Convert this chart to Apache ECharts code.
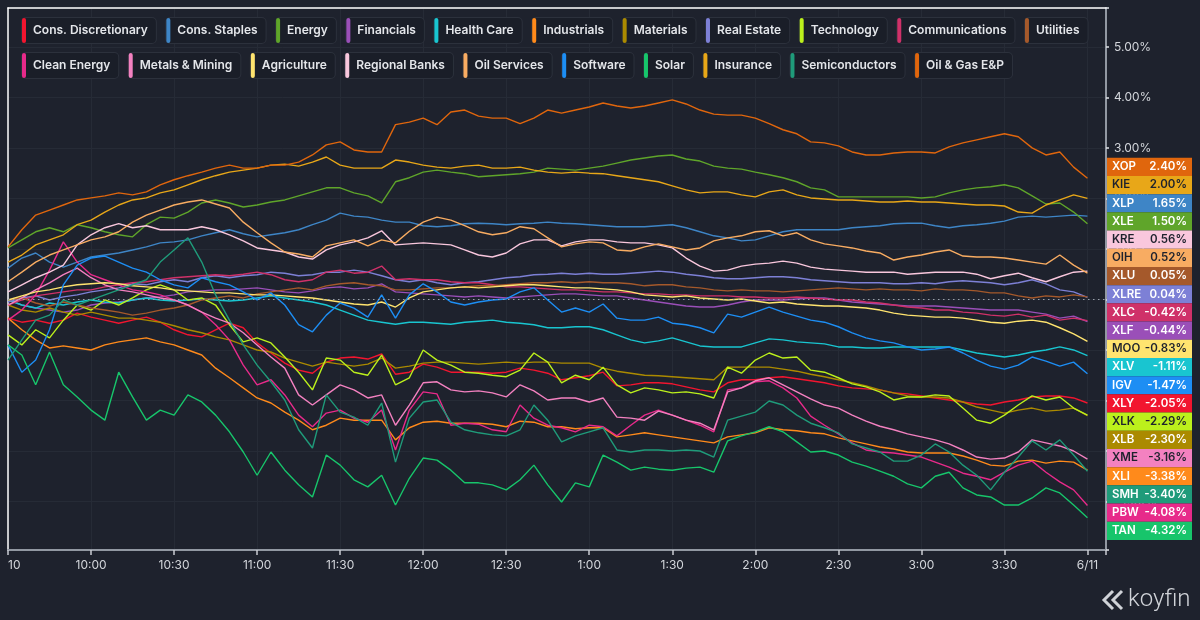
<!DOCTYPE html>
<html><head><meta charset="utf-8">
<script src="https://cdn.jsdelivr.net/npm/echarts@6/dist/echarts.min.js"></script>
<style>html,body{margin:0;padding:0;background:#1e222d;}#c{width:1200px;height:620px;}</style>
</head><body><div id="c"></div>
<script>
// minutes since 9:30 open
const minutes = [0,5,10,15,20,25,30,35,40,45,50,55,60,65,70,75,80,85,90,95,100,105,110,115,120,125,130,135,140,145,150,155,160,165,170,175,180,185,190,195,200,205,210,215,220,225,230,235,240,245,250,255,260,265,270,275,280,285,290,295,300,305,310,315,320,325,330,335,340,345,350,355,360,365,370,375,380,385,390];
const xTickMinutes = [0,30,60,90,120,150,180,210,240,270,300,330,360,390];
const xTickText = ['10','10:00','10:30','11:00','11:30','12:00','12:30','1:00','1:30','2:00','2:30','3:00','3:30','6/11'];

const names   = ['Cons. Discretionary','Cons. Staples','Energy','Financials','Health Care','Industrials','Materials','Real Estate','Technology','Communications','Utilities','Clean Energy','Metals & Mining','Agriculture','Regional Banks','Oil Services','Software','Solar','Insurance','Semiconductors','Oil & Gas E&P'];
const tickers = ['XLY','XLP','XLE','XLF','XLV','XLI','XLB','XLRE','XLK','XLC','XLU','PBW','XME','MOO','KRE','OIH','IGV','TAN','KIE','SMH','XOP'];
const colors  = ['#f2152f','#3e85c6','#5fa52a','#9a4fb8','#19c5d0','#ff8a1b','#ab8a00','#7d80d6','#bcf01c','#cf3169','#a5592b','#e72a8a','#f381c0','#ffe46f','#f9c7dd','#f8ac62','#1d8ef4','#17c56b','#e8a718','#1f9b7a','#e0660d'];
const darkText = ['KIE','KRE','OIH','MOO','XLK','XME'];
const legendRow1 = names.slice(0, 11);
const legendRow2 = names.slice(11);

const XLY = [-0.37,-0.45,-0.41,-0.47,-0.41,-0.27,-0.35,-0.41,-0.47,-0.41,
 -0.35,-0.45,-0.60,-0.70,-0.74,-0.60,-0.47,-0.56,-0.86,-1.06,
 -1.26,-1.40,-1.46,-1.24,-1.16,-1.14,-1.18,-1.08,-1.48,-1.44,
 -1.28,-1.34,-1.44,-1.44,-1.44,-1.46,-1.44,-1.36,-1.40,-1.46,
 -1.59,-1.55,-1.51,-1.44,-1.71,-1.69,-1.65,-1.65,-1.67,-1.73,
 -1.79,-1.83,-1.65,-1.59,-1.59,-1.55,-1.53,-1.57,-1.61,-1.65,
 -1.71,-1.75,-1.77,-1.79,-1.85,-1.87,-1.91,-1.95,-1.99,-2.03,
 -2.07,-2.09,-2.03,-1.99,-1.93,-1.91,-1.91,-1.95,-2.05];
const XLP = [0.62,0.82,0.92,0.74,0.64,0.74,0.84,0.88,0.92,0.98,
 1.04,1.12,1.14,1.18,1.26,1.32,1.38,1.30,1.24,1.28,
 1.32,1.38,1.48,1.57,1.71,1.65,1.63,1.57,1.53,1.53,
 1.46,1.44,1.46,1.50,1.51,1.50,1.48,1.50,1.51,1.53,
 1.51,1.50,1.48,1.46,1.44,1.44,1.44,1.46,1.48,1.42,
 1.34,1.26,1.22,1.16,1.18,1.26,1.34,1.38,1.38,1.38,
 1.38,1.42,1.44,1.46,1.50,1.51,1.51,1.46,1.42,1.46,
 1.48,1.51,1.55,1.63,1.65,1.63,1.65,1.67,1.65];
const XLE = [1.02,1.18,1.34,1.42,1.34,1.48,1.42,1.34,1.28,1.24,
 1.48,1.63,1.61,1.73,1.91,1.97,1.91,1.83,1.87,1.93,
 1.97,2.05,2.13,2.21,2.21,2.11,2.05,1.91,2.33,2.41,
 2.52,2.56,2.52,2.49,2.43,2.45,2.47,2.49,2.52,2.60,
 2.58,2.56,2.60,2.64,2.70,2.76,2.80,2.84,2.86,2.78,
 2.74,2.64,2.60,2.58,2.52,2.47,2.41,2.33,2.21,2.17,
 2.03,2.03,2.03,2.03,2.03,2.03,2.01,2.03,2.11,2.17,
 2.21,2.23,2.27,2.21,2.05,1.89,1.91,1.73,1.50];
const XLF = [-0.01,-0.11,-0.17,-0.21,-0.25,-0.21,-0.11,-0.07,-0.05,-0.01,
 0.03,0.05,0.09,0.15,0.17,0.19,0.19,0.21,0.23,0.19,
 0.15,0.13,0.17,0.23,0.25,0.21,0.23,0.31,0.15,0.13,
 0.11,0.09,0.07,0.05,0.07,0.05,0.03,0.05,0.07,0.09,
 0.11,0.11,0.09,0.07,0.07,0.03,-0.01,-0.05,-0.09,-0.13,
 -0.15,-0.15,-0.11,-0.05,-0.01,-0.01,-0.01,0.01,0.03,0.03,
 -0.01,-0.05,-0.07,-0.09,-0.11,-0.13,-0.13,-0.13,-0.15,-0.17,
 -0.19,-0.21,-0.21,-0.21,-0.25,-0.29,-0.37,-0.33,-0.44];
const XLV = [-0.01,-0.11,-0.17,-0.07,-0.11,-0.05,-0.01,-0.05,-0.07,-0.01,
 0.03,-0.01,-0.03,-0.01,0.01,-0.01,-0.03,-0.01,0.03,0.07,
 0.03,-0.01,-0.05,-0.11,-0.21,-0.31,-0.41,-0.45,-0.49,-0.45,
 -0.45,-0.47,-0.49,-0.45,-0.43,-0.41,-0.45,-0.47,-0.50,-0.56,
 -0.56,-0.54,-0.54,-0.60,-0.70,-0.80,-0.86,-0.82,-0.76,-0.84,
 -0.92,-0.94,-0.94,-0.94,-0.86,-0.78,-0.80,-0.84,-0.86,-0.88,
 -0.94,-0.94,-0.96,-0.96,-0.94,-0.94,-0.94,-0.94,-0.94,-1.00,
 -1.06,-1.10,-1.14,-1.10,-1.04,-1.00,-0.94,-1.00,-1.11];
const XLI = [-0.37,-0.60,-0.80,-0.96,-0.92,-0.96,-1.00,-0.90,-0.84,-0.80,
 -0.76,-0.84,-0.90,-1.00,-1.10,-1.36,-1.55,-1.75,-1.95,-2.05,
 -2.23,-2.39,-2.58,-2.49,-2.35,-2.39,-2.39,-2.39,-2.78,-2.54,
 -2.43,-2.41,-2.45,-2.45,-2.45,-2.47,-2.52,-2.41,-2.43,-2.52,
 -2.52,-2.56,-2.54,-2.54,-2.72,-2.68,-2.64,-2.68,-2.72,-2.76,
 -2.80,-2.84,-2.72,-2.68,-2.64,-2.54,-2.58,-2.60,-2.64,-2.66,
 -2.74,-2.80,-2.86,-2.92,-2.96,-3.02,-3.04,-3.04,-3.04,-3.10,
 -3.18,-3.28,-3.30,-3.20,-3.18,-3.24,-3.20,-3.22,-3.38];
const XLB = [-0.11,-0.21,-0.25,-0.17,-0.25,-0.31,-0.25,-0.31,-0.37,-0.37,
 -0.41,-0.45,-0.52,-0.60,-0.66,-0.74,-0.80,-0.90,-1.00,-1.04,
 -1.16,-1.24,-1.32,-1.24,-1.28,-1.32,-1.28,-1.16,-1.36,-1.32,
 -1.26,-1.24,-1.24,-1.26,-1.28,-1.26,-1.24,-1.26,-1.24,-1.24,
 -1.26,-1.26,-1.26,-1.36,-1.42,-1.46,-1.50,-1.51,-1.53,-1.55,
 -1.57,-1.59,-1.34,-1.34,-1.34,-1.34,-1.38,-1.42,-1.48,-1.53,
 -1.59,-1.65,-1.71,-1.79,-1.85,-1.91,-1.93,-1.93,-1.95,-2.03,
 -2.13,-2.19,-2.25,-2.19,-2.15,-2.21,-2.19,-2.15,-2.30];
const XLRE = [-0.05,0.03,0.07,-0.01,0.05,0.09,0.15,0.19,0.23,0.31,
 0.29,0.35,0.39,0.35,0.43,0.47,0.43,0.47,0.49,0.54,
 0.52,0.47,0.49,0.54,0.54,0.58,0.54,0.47,0.39,0.35,
 0.39,0.33,0.29,0.33,0.35,0.39,0.43,0.45,0.49,0.50,
 0.52,0.50,0.52,0.50,0.50,0.52,0.54,0.56,0.54,0.50,
 0.47,0.43,0.41,0.41,0.43,0.45,0.45,0.43,0.39,0.37,
 0.35,0.33,0.33,0.33,0.31,0.31,0.33,0.31,0.35,0.37,
 0.35,0.33,0.29,0.33,0.39,0.31,0.19,0.15,0.04];
const XLK = [-0.70,-0.90,-0.60,-0.76,-0.41,-0.11,-0.21,-0.01,-0.11,0.03,
 0.19,0.29,0.19,-0.01,0.03,-0.11,-0.50,-0.84,-0.76,-0.86,
 -1.14,-1.44,-1.79,-1.16,-1.20,-1.44,-1.50,-1.10,-1.69,-1.55,
 -1.00,-1.20,-1.30,-1.44,-1.46,-1.50,-1.53,-1.40,-1.06,-1.24,
 -1.65,-1.50,-1.59,-1.34,-1.69,-1.85,-1.75,-1.79,-1.85,-1.83,
 -1.87,-1.95,-1.34,-1.46,-1.20,-1.06,-1.16,-1.14,-1.40,-1.44,
 -1.55,-1.67,-1.73,-1.83,-1.99,-1.93,-1.93,-1.89,-1.91,-2.15,
 -2.39,-2.45,-2.29,-2.09,-1.91,-1.99,-1.93,-2.15,-2.29];
const XLC = [-0.11,-0.01,0.07,0.11,0.15,0.19,0.19,0.25,0.29,0.33,
 0.35,0.39,0.43,0.45,0.47,0.49,0.47,0.50,0.54,0.49,
 0.39,0.35,0.39,0.54,0.58,0.52,0.54,0.66,0.39,0.41,
 0.39,0.39,0.35,0.33,0.33,0.29,0.25,0.25,0.23,0.21,
 0.19,0.19,0.17,0.15,0.15,0.13,0.11,0.11,0.09,0.09,
 0.07,0.07,0.07,0.05,0.05,0.03,0.03,0.05,0.03,0.01,
 -0.01,-0.01,-0.05,-0.07,-0.11,-0.15,-0.17,-0.21,-0.21,-0.25,
 -0.27,-0.31,-0.33,-0.29,-0.35,-0.31,-0.41,-0.37,-0.42];
const XLU = [-0.01,0.03,-0.07,-0.13,-0.05,-0.11,-0.17,-0.21,-0.25,-0.31,
 -0.27,-0.21,-0.17,-0.11,-0.01,0.03,0.07,0.03,0.11,0.15,
 0.19,0.23,0.19,0.27,0.31,0.33,0.29,0.27,0.19,0.19,
 0.21,0.23,0.23,0.25,0.27,0.27,0.29,0.31,0.33,0.33,
 0.35,0.33,0.35,0.33,0.33,0.31,0.27,0.29,0.29,0.25,
 0.23,0.19,0.17,0.19,0.17,0.17,0.15,0.17,0.19,0.21,
 0.23,0.21,0.19,0.21,0.19,0.19,0.17,0.21,0.19,0.19,
 0.17,0.13,0.13,0.07,0.03,0.07,0.05,0.09,0.05];
const PBW = [-0.41,-0.21,0.09,0.58,1.14,0.74,0.49,0.39,0.29,0.19,
 0.15,0.09,-0.01,-0.11,-0.25,-0.50,-0.80,-1.30,-1.69,-1.59,
 -1.89,-2.29,-2.52,-2.25,-2.19,-2.35,-2.43,-2.19,-2.98,-2.19,
 -1.83,-1.87,-2.49,-2.45,-2.47,-2.58,-2.62,-2.09,-2.35,-2.49,
 -2.54,-2.62,-2.49,-2.52,-2.70,-2.49,-2.29,-2.19,-2.29,-2.39,
 -2.49,-2.62,-1.79,-1.75,-1.63,-1.61,-1.75,-1.95,-2.31,-2.49,
 -2.66,-2.84,-2.98,-3.02,-3.04,-3.08,-3.12,-3.22,-3.32,-3.44,
 -3.50,-3.57,-3.42,-3.28,-3.20,-3.42,-3.61,-3.77,-4.08];
const XME = [-0.11,0.03,0.19,0.33,0.49,0.62,0.43,0.29,0.19,0.15,
 0.09,0.03,-0.01,-0.11,-0.25,-0.37,-0.47,-0.66,-0.90,-1.14,
 -1.36,-1.89,-2.09,-1.89,-1.69,-1.79,-1.95,-1.89,-2.49,-2.09,
 -1.65,-1.63,-1.79,-1.83,-1.81,-1.85,-1.93,-1.69,-1.81,-1.99,
 -1.95,-1.95,-2.03,-1.95,-2.33,-2.35,-2.39,-2.21,-2.29,-2.39,
 -2.45,-2.58,-1.83,-1.75,-1.61,-1.55,-1.69,-1.83,-1.97,-2.09,
 -2.15,-2.29,-2.41,-2.51,-2.58,-2.66,-2.72,-2.78,-2.86,-2.98,
 -3.12,-3.16,-3.14,-3.02,-2.78,-2.84,-2.90,-3.00,-3.16];
const MOO = [-0.01,0.07,0.15,0.19,0.25,0.29,0.31,0.33,0.31,0.27,
 0.25,0.23,0.19,0.17,0.15,0.13,0.13,0.11,0.09,0.09,
 0.07,0.05,0.03,-0.01,-0.05,-0.09,-0.11,-0.05,-0.15,0.03,
 0.15,0.19,0.23,0.25,0.23,0.25,0.27,0.29,0.29,0.27,
 0.25,0.23,0.23,0.21,0.19,0.15,0.09,0.07,0.05,0.07,
 0.03,0.01,-0.01,0.01,-0.03,-0.07,-0.05,-0.09,-0.11,-0.13,
 -0.13,-0.15,-0.17,-0.21,-0.27,-0.31,-0.33,-0.35,-0.35,-0.37,
 -0.41,-0.45,-0.47,-0.43,-0.41,-0.45,-0.56,-0.68,-0.83];
const KRE = [0.15,0.29,0.43,0.54,0.68,1.08,1.28,1.42,1.50,1.42,
 1.46,1.38,1.38,1.38,1.44,1.38,1.28,1.16,1.02,0.98,
 0.94,0.84,0.80,0.98,1.08,1.14,1.22,1.36,1.08,1.10,
 1.12,1.10,1.08,0.98,0.88,0.84,0.92,1.10,1.18,1.18,
 1.06,1.14,1.18,1.18,1.14,1.12,1.12,1.08,1.02,0.82,
 0.66,0.56,0.58,0.66,0.70,0.72,0.76,0.72,0.64,0.60,
 0.58,0.56,0.54,0.54,0.54,0.50,0.52,0.54,0.54,0.54,
 0.50,0.41,0.47,0.52,0.43,0.35,0.45,0.54,0.56];
const OIH = [0.35,0.54,0.74,0.88,0.98,1.08,1.18,1.24,1.34,1.53,
 1.67,1.77,1.87,1.93,1.97,1.89,1.81,1.53,1.32,1.12,
 0.94,0.90,0.84,1.06,1.12,1.18,1.06,1.18,1.12,1.35,
 1.53,1.63,1.57,1.46,1.34,1.28,1.32,1.44,1.40,1.22,
 1.04,1.10,1.14,1.12,0.98,0.96,1.04,1.10,1.04,0.98,
 1.02,1.16,1.22,1.26,1.34,1.36,1.26,1.32,1.18,1.10,
 1.06,1.02,0.96,0.92,0.78,0.84,0.88,0.94,0.98,0.86,
 0.84,0.84,0.82,0.78,0.74,0.70,0.88,0.68,0.52];
const IGV = [-0.90,-1.44,-1.20,-0.60,0.29,0.68,0.82,0.86,0.74,0.62,
 0.54,0.39,0.29,0.23,0.43,0.35,0.29,0.15,-0.01,0.13,
 -0.11,-0.50,-0.64,-0.31,-0.07,-0.17,-0.35,0.09,-0.37,0.09,
 0.31,0.15,-0.05,-0.11,-0.05,-0.01,0.01,0.15,0.23,-0.01,
 -0.25,-0.17,-0.25,-0.09,-0.37,-0.41,-0.41,-0.35,-0.47,-0.50,
 -0.56,-0.66,-0.29,-0.35,-0.25,-0.15,-0.25,-0.33,-0.41,-0.45,
 -0.54,-0.66,-0.76,-0.82,-0.86,-0.94,-1.00,-0.98,-0.94,-1.06,
 -1.20,-1.32,-1.38,-1.30,-1.14,-1.22,-1.32,-1.24,-1.47];
const TAN = [-0.90,-1.10,-1.69,-1.04,-1.69,-1.93,-2.19,-2.39,-1.44,-1.93,
 -2.39,-2.19,-2.29,-1.89,-2.03,-2.29,-2.62,-3.02,-3.48,-3.02,
 -3.38,-3.67,-3.91,-3.08,-3.28,-3.57,-3.71,-3.48,-4.07,-3.54,
 -3.14,-3.18,-3.38,-3.63,-3.63,-3.67,-3.77,-3.57,-3.28,-3.67,
 -4.01,-3.63,-3.71,-3.08,-3.22,-3.38,-3.32,-3.36,-3.38,-3.34,
 -3.32,-3.42,-2.80,-2.70,-2.62,-2.52,-2.62,-2.82,-3.02,-3.00,
 -3.08,-3.22,-3.30,-3.40,-3.50,-3.65,-3.73,-3.50,-3.42,-3.73,
 -3.87,-3.91,-4.07,-4.07,-3.93,-3.73,-3.83,-4.07,-4.32];
const KIE = [0.74,0.88,1.08,1.18,1.28,1.48,1.57,1.73,1.87,1.97,
 2.01,2.11,2.17,2.27,2.37,2.45,2.52,2.56,2.60,2.66,
 2.68,2.64,2.72,2.82,2.66,2.60,2.60,2.60,2.76,2.72,
 2.66,2.62,2.60,2.64,2.66,2.60,2.60,2.62,2.56,2.52,
 2.50,2.52,2.50,2.49,2.45,2.41,2.37,2.33,2.25,2.17,
 2.11,2.13,2.13,2.07,2.03,2.13,2.17,2.07,2.01,1.99,
 1.97,1.97,1.95,1.93,1.93,1.95,1.93,1.93,1.91,1.89,
 1.87,1.87,1.85,1.73,1.71,1.87,1.97,2.07,2.00];
const SMH = [-1.20,-0.80,-0.41,-0.31,-0.01,-0.11,-0.01,0.09,0.19,0.29,
 0.39,0.74,0.98,1.22,0.74,0.09,-0.41,-0.90,-1.30,-1.63,
 -1.99,-2.58,-2.94,-1.89,-2.23,-2.33,-2.49,-2.05,-3.22,-2.35,
 -2.03,-1.99,-2.43,-2.58,-2.64,-2.68,-2.70,-2.58,-2.09,-2.39,
 -2.82,-2.70,-2.62,-2.54,-2.98,-3.02,-2.98,-2.98,-3.00,-2.98,
 -3.00,-3.12,-2.39,-2.31,-2.23,-2.01,-2.09,-2.29,-2.45,-2.54,
 -2.64,-2.86,-2.94,-3.02,-3.20,-3.20,-3.08,-2.86,-3.02,-3.28,
 -3.48,-3.77,-3.42,-3.12,-2.80,-2.98,-2.78,-3.08,-3.40];
const XOP = [1.04,1.38,1.67,1.77,1.87,1.97,2.01,2.05,2.11,2.07,
 2.13,2.27,2.37,2.45,2.52,2.60,2.66,2.60,2.60,2.66,
 2.66,2.72,2.86,3.06,3.12,2.96,2.92,2.92,3.46,3.51,
 3.59,3.46,3.71,3.75,3.63,3.59,3.59,3.48,3.59,3.75,
 3.69,3.75,3.81,3.89,3.83,3.79,3.83,3.89,3.95,3.87,
 3.75,3.67,3.65,3.65,3.59,3.48,3.36,3.28,3.12,3.10,
 3.04,2.92,2.86,2.86,2.90,2.92,2.92,2.90,3.02,3.10,
 3.16,3.22,3.28,3.22,3.00,2.86,2.92,2.62,2.40];

const seriesValues = [XLY,XLP,XLE,XLF,XLV,XLI,XLB,XLRE,XLK,XLC,XLU,PBW,XME,MOO,KRE,OIH,IGV,TAN,KIE,SMH,XOP];

const chart = echarts.init(document.getElementById('c'), null, {renderer:'canvas'});
const FONT = 'Inter, "Noto Sans", sans-serif';

const rich = { t: { fontFamily: FONT, fontSize: 12, fontWeight: 600, color: '#e4e6ea', lineHeight: 25, padding: [0,0,0,7] } };
names.forEach((n,i)=>{ rich['b'+i] = { width: 4, height: 25, backgroundColor: colors[i], borderRadius: 2 }; });
function legendCfg(data, top){
  return {
    data: data, top: top, left: 12, orient: 'horizontal', itemGap: 4.5,
    itemWidth: 0, itemHeight: 0, icon: 'rect',
    formatter: name => '{b' + names.indexOf(name) + '|}{t|' + name + '}',
    textStyle: { rich: rich, backgroundColor: '#1a1e28', borderColor: '#2c313c', borderWidth: 1, borderRadius: 4, padding: [0,8,0,0] }
  };
}

const series = names.map((n,i)=>({
  name: n, type: 'line', showSymbol: false, symbol: 'none',
  data: minutes.map((m,k)=>[m, seriesValues[i][k]]),
  lineStyle: { width: 1.4, color: colors[i] }, itemStyle: { color: colors[i] },
  emphasis: { disabled: true }, z: 3,
  markLine: i === 0 ? { silent: true, symbol: 'none', label: { show: false },
    lineStyle: { type: [1.5,3.5], color: '#9ba1ab', width: 1 }, data: [{ yAxis: 0 }] } : undefined
}));

chart.setOption({
  backgroundColor: '#1e222d',
  animation: false,
  legend: [legendCfg(legendRow1, 12), legendCfg(legendRow2, 47)],
  grid: { left: 8, right: 94, top: 8, bottom: 70 },
  xAxis: [{
    type: 'value', min: 0, max: 396.7, interval: 30,
    axisLine: { onZero: false, lineStyle: { color: '#9298a2', width: 2 } },
    axisTick: { show: true, length: 5, lineStyle: { color: '#c9ccd2', width: 1.5 } },
    axisLabel: { color: '#d3d6db', fontSize: 12, fontFamily: FONT, margin: 9, alignMinLabel: 'left',
      formatter: v => { const k = xTickMinutes.indexOf(Math.round(v)); return (k >= 0 && Math.abs(v - Math.round(v)) < 1e-6) ? xTickText[k] : ''; } },
    splitLine: { show: true, lineStyle: { color: '#262b36', width: 1 } }
  }, {
    type: 'value', position: 'top', min: 0, max: 396.7,
    axisLine: { show: true, onZero: false, lineStyle: { color: '#ffffff', width: 1.5 } },
    axisTick: { show: false }, axisLabel: { show: false }, splitLine: { show: false }
  }],
  yAxis: [{
    type: 'value', position: 'right', min: -4.96, max: 5.77, minInterval: 1, maxInterval: 1,
    axisLine: { show: true, onZero: false, lineStyle: { color: '#9298a2', width: 2 } },
    axisTick: { show: true, length: 3, lineStyle: { color: '#e0e2e6', width: 1.5 } },
    axisLabel: { color: '#d3d6db', fontSize: 12, fontFamily: FONT, margin: 8,
      formatter: v => Math.abs(v - Math.round(v)) < 1e-6 ? v.toFixed(2) + '%' : '' },
    splitLine: { show: true, lineStyle: { color: '#262b36', width: 1 } }
  }, {
    type: 'value', position: 'left', min: -4.96, max: 5.77,
    axisLine: { show: true, onZero: false, lineStyle: { color: '#ffffff', width: 1.5 } },
    axisTick: { show: false }, axisLabel: { show: false }, splitLine: { show: false }
  }],
  series: series
});

// right-hand value tags, stacked without overlap around their true positions
(function placeTags(){
  const h = 18.2;
  const last = minutes.length - 1;
  const items = names.map((n,i)=>{
    const v = seriesValues[i][last];
    return { i: i, v: v, y: chart.convertToPixel({ yAxisIndex: 0 }, v) };
  }).sort((a,b)=>a.y - b.y);
  let clusters = items.map(it=>({ members: [it], sum: it.y }));
  let changed = true;
  const topOf = c => c.sum / c.members.length - c.members.length * h / 2;
  while (changed) {
    changed = false;
    for (let k = 1; k < clusters.length; k++) {
      const a = clusters[k-1], b = clusters[k];
      if (topOf(a) + a.members.length * h > topOf(b) + 0.01) {
        a.members = a.members.concat(b.members); a.sum += b.sum;
        clusters.splice(k, 1); changed = true; break;
      }
    }
  }
  const els = [];
  clusters.forEach(c=>{
    const t0 = topOf(c);
    c.members.forEach((m,j)=>{
      const y = t0 + j * h;
      const tk = tickers[m.i];
      const fg = darkText.indexOf(tk) >= 0 ? '#1e222d' : '#ffffff';
      els.push({ type: 'rect', z: 100, shape: { x: 1107, y: y, width: 85, height: h }, style: { fill: colors[m.i] } });
      els.push({ type: 'text', z: 101, x: 1112, y: y + h/2, style: { text: tk, fill: fg, font: '600 11.5px ' + FONT, verticalAlign: 'middle', align: 'left' } });
      els.push({ type: 'text', z: 101, x: 1187, y: y + h/2, style: { text: m.v.toFixed(2) + '%', fill: fg, font: '600 11.5px ' + FONT, verticalAlign: 'middle', align: 'right' } });
    });
  });
  // koyfin mark
  els.push({ type: 'polyline', z: 100, shape: { points: [[1113,591],[1104,600],[1113,609]] }, style: { stroke: '#d0d3d8', lineWidth: 3, fill: null } });
  els.push({ type: 'polyline', z: 100, shape: { points: [[1122,591],[1113,600],[1122,609]] }, style: { stroke: '#d0d3d8', lineWidth: 3, fill: null } });
  els.push({ type: 'text', z: 100, x: 1128, y: 600, style: { text: 'koyfin', fill: '#d0d3d8', font: '300 24px Roboto, ' + FONT, verticalAlign: 'middle', align: 'left' } });
  chart.setOption({ graphic: els });
})();
</script>
</body></html>
